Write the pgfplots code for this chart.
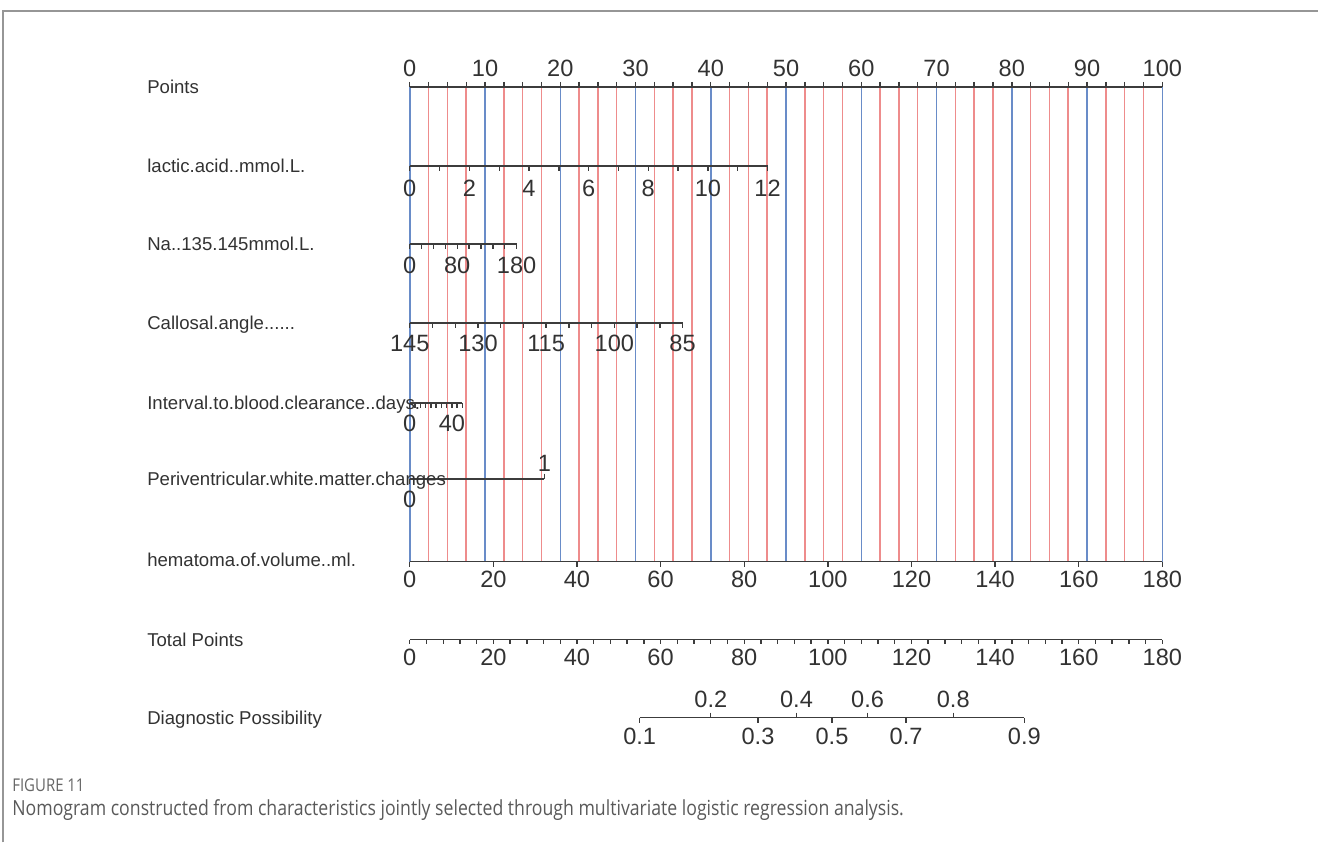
\documentclass[border=0pt]{standalone}
\usepackage{pgfplots}
\pgfplotsset{compat=1.18}
\usepackage{fontspec}
\setmainfont{Liberation Sans}
\newfontfamily\capfont[FakeStretch=0.85]{Open Sans}
\definecolor{bl}{RGB}{105,140,200}
\definecolor{rd}{RGB}{238,140,140}
\definecolor{axc}{RGB}{60,60,60}
\definecolor{txt}{RGB}{50,50,50}
\definecolor{brd}{RGB}{150,150,150}
\newcommand\numf{\fontsize{11.8pt}{13pt}\selectfont}
\newcommand\labf{\fontsize{9.3pt}{11pt}\selectfont}
\begin{document}
\begin{tikzpicture}
\begin{axis}[
  scale only axis, width=659.5pt, height=421.5pt,
  xmin=-54.449, xmax=120.717, ymin=0, ymax=843, y dir=reverse,
  hide axis, clip=false, unbounded coords=jump,
  tk/.style={only marks, mark=|, mark size=1.25pt, mark options={line width=0.7pt, draw=axc}},
  ln/.style={axc, line width=0.8pt},
  nl/.style={only marks, mark=none, nodes near coords, point meta=explicit symbolic,
    nodes near coords style={anchor=base, font=\numf, text=txt, inner sep=0pt}},
]
% fix the picture's extent to the full frame
\path (axis cs:-54.449,0) -- (axis cs:120.717,843);
% border
\addplot[brd, line width=0.8pt] coordinates {(-54.05,843) (-54.05,11) (120.717,11)};
% vertical reference lines
\addplot[rd, line width=0.75pt] coordinates {
(2.5,87)(2.5,562)(2.5,nan) (5,87)(5,562)(5,nan) (7.5,87)(7.5,562)(7.5,nan)
(12.5,87)(12.5,562)(12.5,nan) (15,87)(15,562)(15,nan) (17.5,87)(17.5,562)(17.5,nan)
(22.5,87)(22.5,562)(22.5,nan) (25,87)(25,562)(25,nan) (27.5,87)(27.5,562)(27.5,nan)
(32.5,87)(32.5,562)(32.5,nan) (35,87)(35,562)(35,nan) (37.5,87)(37.5,562)(37.5,nan)
(42.5,87)(42.5,562)(42.5,nan) (45,87)(45,562)(45,nan) (47.5,87)(47.5,562)(47.5,nan)
(52.5,87)(52.5,562)(52.5,nan) (55,87)(55,562)(55,nan) (57.5,87)(57.5,562)(57.5,nan)
(62.5,87)(62.5,562)(62.5,nan) (65,87)(65,562)(65,nan) (67.5,87)(67.5,562)(67.5,nan)
(72.5,87)(72.5,562)(72.5,nan) (75,87)(75,562)(75,nan) (77.5,87)(77.5,562)(77.5,nan)
(82.5,87)(82.5,562)(82.5,nan) (85,87)(85,562)(85,nan) (87.5,87)(87.5,562)(87.5,nan)
(92.5,87)(92.5,562)(92.5,nan) (95,87)(95,562)(95,nan) (97.5,87)(97.5,562)(97.5,nan)
};
\addplot[bl, line width=0.75pt] coordinates {
(0,87)(0,562)(0,nan) (10,87)(10,562)(10,nan) (20,87)(20,562)(20,nan)
(30,87)(30,562)(30,nan) (40,87)(40,562)(40,nan) (50,87)(50,562)(50,nan)
(60,87)(60,562)(60,nan) (70,87)(70,562)(70,nan) (80,87)(80,562)(80,nan)
(90,87)(90,562)(90,nan) (100,87)(100,562)(100,nan)
};
% ---- Points
\addplot[ln] coordinates {(0,87) (100,87)};
\addplot[tk] table[row sep=\\, x=v, y expr=84.5] {v\\0\\2.5\\5\\7.5\\10\\12.5\\15\\17.5\\20\\22.5\\25\\27.5\\30\\32.5\\35\\37.5\\40\\42.5\\45\\47.5\\50\\52.5\\55\\57.5\\60\\62.5\\65\\67.5\\70\\72.5\\75\\77.5\\80\\82.5\\85\\87.5\\90\\92.5\\95\\97.5\\100\\};
\addplot[nl] table[row sep=\\, x=v, y expr=76.3, meta=v] {v\\0\\10\\20\\30\\40\\50\\60\\70\\80\\90\\100\\};
% ---- lactic acid
\addplot[ln] coordinates {(0,166) (47.54,166)};
\addplot[tk] table[row sep=\\, x expr=\thisrow{v}*3.962, y expr=168.5] {v\\0\\1\\2\\3\\4\\5\\6\\7\\8\\9\\10\\11\\12\\};
\addplot[nl] table[row sep=\\, x expr=\thisrow{v}*3.962, y expr=196.3, meta=v] {v\\0\\2\\4\\6\\8\\10\\12\\};
% ---- Na
\addplot[ln] coordinates {(0,244) (14.2,244)};
\addplot[tk] table[row sep=\\, x expr=\thisrow{v}*0.07889, y expr=246.5] {v\\0\\20\\40\\60\\80\\100\\120\\140\\160\\180\\};
\addplot[nl] table[row sep=\\, x expr=\thisrow{v}*0.07889, y expr=273.3, meta=v] {v\\0\\80\\180\\};
% ---- Callosal angle
\addplot[ln] coordinates {(0,323) (36.25,323)};
\addplot[tk] table[row sep=\\, x expr=(145-\thisrow{v})*0.6042, y expr=325.5] {v\\145\\140\\135\\130\\125\\120\\115\\110\\105\\100\\95\\90\\85\\};
\addplot[nl] table[row sep=\\, x expr=(145-\thisrow{v})*0.6042, y expr=351.3, meta=v] {v\\145\\130\\115\\100\\85\\};
% ---- Interval
\addplot[ln] coordinates {(0,403) (7.0,403)};
\addplot[tk] table[row sep=\\, x expr=\thisrow{v}*0.14, y expr=405.5] {v\\0\\5\\10\\15\\20\\25\\30\\35\\40\\45\\50\\};
\addplot[nl] table[row sep=\\, x expr=\thisrow{v}*0.14, y expr=431.3, meta=v] {v\\0\\40\\};
% ---- Periventricular
\addplot[ln] coordinates {(0,479) (17.9,479)};
\addplot[tk] table[row sep=\\, x expr=\thisrow{v}*17.9, y expr=476.5] {v\\1\\};
\addplot[tk] table[row sep=\\, x expr=\thisrow{v}*17.9, y expr=481.5] {v\\0\\};
\addplot[nl] table[row sep=\\, x expr=\thisrow{v}*17.9, y expr=471.3, meta=v] {v\\1\\};
\addplot[nl] table[row sep=\\, x expr=\thisrow{v}*17.9, y expr=508.3, meta=v] {v\\0\\};
% ---- hematoma
\addplot[ln] coordinates {(0,562) (100,562)};
\addplot[tk] table[row sep=\\, x expr=\thisrow{v}*0.55556, y expr=564.5] {v\\0\\20\\40\\60\\80\\100\\120\\140\\160\\180\\};
\addplot[nl] table[row sep=\\, x expr=\thisrow{v}*0.55556, y expr=588.3, meta=v] {v\\0\\20\\40\\60\\80\\100\\120\\140\\160\\180\\};
% ---- Total points
\addplot[ln] coordinates {(0,640) (100,640)};
\addplot[tk, mark size=1pt] table[row sep=\\, x expr=\thisrow{v}*0.55556, y expr=642] {v\\0\\4\\8\\12\\16\\20\\24\\28\\32\\36\\40\\44\\48\\52\\56\\60\\64\\68\\72\\76\\80\\84\\88\\92\\96\\100\\104\\108\\112\\116\\120\\124\\128\\132\\136\\140\\144\\148\\152\\156\\160\\164\\168\\172\\176\\180\\};
\addplot[nl] table[row sep=\\, x expr=\thisrow{v}*0.55556, y expr=666.3, meta=v] {v\\0\\20\\40\\60\\80\\100\\120\\140\\160\\180\\};
% ---- Diagnostic possibility (positions in total points)
\addplot[ln] coordinates {(30.56,718) (81.67,718)};
\addplot[tk] table[row sep=\\, x expr=\thisrow{tp}*0.55556, y expr=715.5] {p tp\\0.2 72.0\\0.4 92.5\\0.6 109.5\\0.8 130.0\\};
\addplot[tk] table[row sep=\\, x expr=\thisrow{tp}*0.55556, y expr=720.5] {p tp\\0.1 55.0\\0.3 83.3\\0.5 101.0\\0.7 118.7\\0.9 147.0\\};
\addplot[nl] table[row sep=\\, x expr=\thisrow{tp}*0.55556, y expr=708.3, meta=p] {p tp\\0.2 72.0\\0.4 92.5\\0.6 109.5\\0.8 130.0\\};
\addplot[nl] table[row sep=\\, x expr=\thisrow{tp}*0.55556, y expr=745.3, meta=p] {p tp\\0.1 55.0\\0.3 83.3\\0.5 101.0\\0.7 118.7\\0.9 147.0\\};
% ---- variable names
\begin{scope}[every node/.style={anchor=base west, inner sep=0pt, font=\labf, text=txt}]
\node at (axis cs:-34.93,93.5) {Points};
\node at (axis cs:-34.93,172.5) {lactic.acid..mmol.L.};
\node at (axis cs:-34.93,250.5) {Na..135.145mmol.L.};
\node at (axis cs:-34.93,329.5) {Callosal.angle......};
\node at (axis cs:-34.93,409.5) {Interval.to.blood.clearance..days.};
\node at (axis cs:-34.93,485.5) {Periventricular.white.matter.changes};
\node at (axis cs:-34.93,566.5) {hematoma.of.volume..ml.};
\node at (axis cs:-34.93,646.5) {Total Points};
\node at (axis cs:-34.93,724.5) {Diagnostic Possibility};
\end{scope}
% caption
\node[anchor=base west, inner sep=0pt, font=\capfont\fontsize{8.8pt}{10pt}\selectfont, text=black!60] at (axis cs:-52.86,792) {FIGURE 11};
\node[anchor=base west, inner sep=0pt, font=\capfont\fontsize{10.4pt}{12pt}\selectfont, text=black!65] at (axis cs:-52.86,816) {Nomogram constructed from characteristics jointly selected through multivariate logistic regression analysis.};
\end{axis}
\end{tikzpicture}
\end{document}
